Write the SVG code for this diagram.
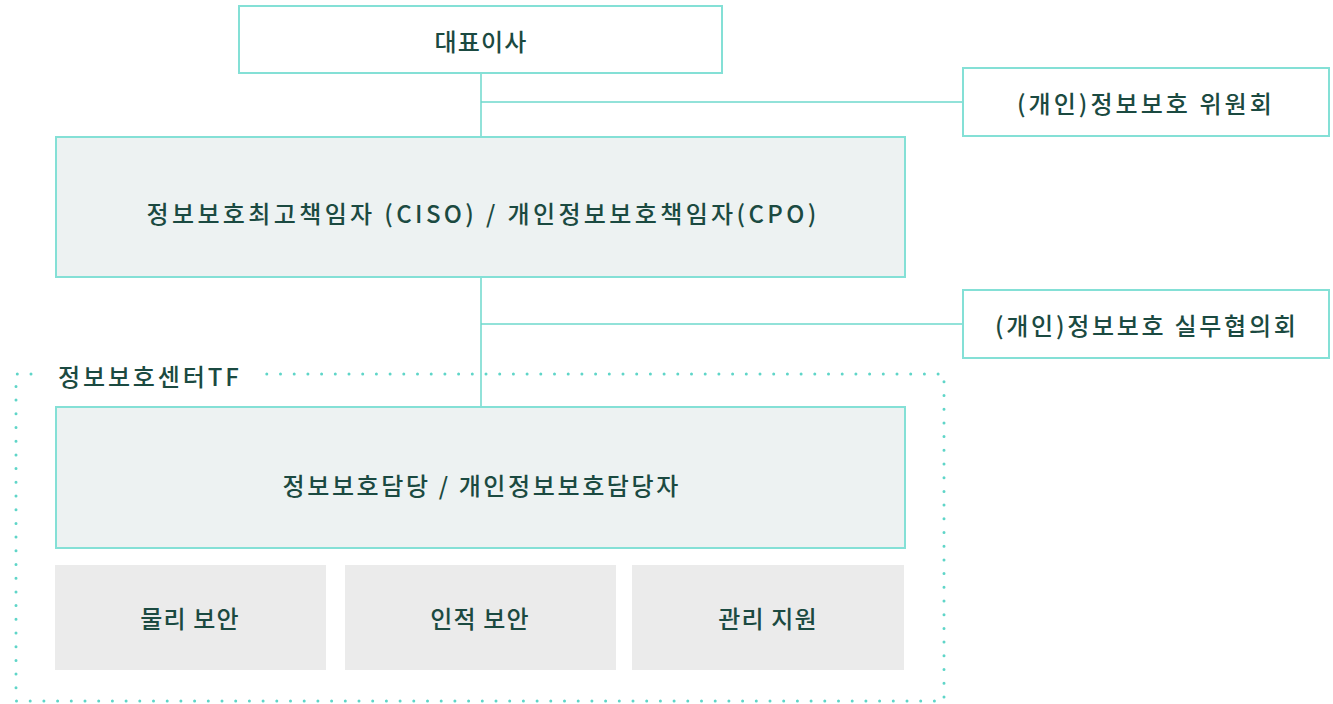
<svg xmlns="http://www.w3.org/2000/svg" width="1333" height="704" viewBox="0 0 1333 704">
<style>
.t{font-family:"Noto Sans CJK KR","Noto Sans",sans-serif;font-size:24px;letter-spacing:1.2px;font-weight:500;fill:#1b4a41;text-anchor:middle;dominant-baseline:central}
.w{fill:#ffffff;stroke:#84e0d6;stroke-width:2}
.g{fill:#edf2f2;stroke:#84e0d6;stroke-width:2}
.s{fill:#ebebeb}
.c{stroke:#6fd9cd;stroke-width:1.5;fill:none}
.d{stroke:#5fd5c8;stroke-width:3;stroke-linecap:round;stroke-dasharray:0 13.7;fill:none}
</style>
<rect width="1333" height="704" fill="#ffffff"/>
<g id="connectors">
<path class="c" d="M481 73V137M481 102H963M481 277V407M481 324H963"/>
</g>
<g id="tf-group">
<path class="d" d="M31 374H16V701H944V374H265"/>
<text class="t" x="58" y="375" style="text-anchor:start" textLength="182" lengthAdjust="spacing">정보보호센터TF</text>
</g>
<g id="ceo"><rect class="w" x="239" y="6" width="483" height="67"/><text class="t" x="481" y="40">대표이사</text></g>
<g id="committee"><rect class="w" x="963" y="68" width="366" height="68"/><text class="t" x="1145" y="102" textLength="256" lengthAdjust="spacing">(개인)정보보호 위원회</text></g>
<g id="ciso"><rect class="g" x="56" y="137" width="849" height="140"/><text class="t" x="482" y="212" textLength="671" lengthAdjust="spacing">정보보호최고책임자 (CISO) / 개인정보보호책임자(CPO)</text></g>
<g id="council"><rect class="w" x="963" y="290" width="366" height="68"/><text class="t" x="1146" y="324" textLength="302" lengthAdjust="spacing">(개인)정보보호 실무협의회</text></g>
<g id="manager"><rect class="g" x="56" y="407" width="849" height="141"/><text class="t" x="481" y="484" textLength="397" lengthAdjust="spacing">정보보호담당 / 개인정보보호담당자</text></g>
<g id="physical"><rect class="s" x="55" y="565" width="271" height="105"/><text class="t" x="190" y="617">물리 보안</text></g>
<g id="personnel"><rect class="s" x="345" y="565" width="271" height="105"/><text class="t" x="480" y="617">인적 보안</text></g>
<g id="admin"><rect class="s" x="632" y="565" width="272" height="105"/><text class="t" x="768" y="617">관리 지원</text></g>
</svg>
